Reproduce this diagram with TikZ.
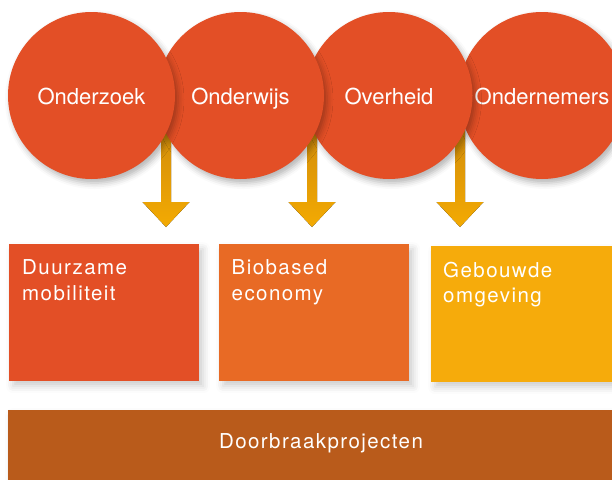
\documentclass[tikz,border=0pt]{standalone}
\usepackage{fontspec}
\setmainfont{TeX Gyre Heros}
\newfontfamily\spatie[LetterSpace=7]{TeX Gyre Heros}
\usetikzlibrary{calc,positioning,shadows.blur}
\definecolor{rood}{HTML}{E34F26}
\definecolor{oranje}{HTML}{E86A25}
\definecolor{geel}{HTML}{F6AB0B}
\definecolor{bruin}{HTML}{B95B1B}
\definecolor{pijltop}{HTML}{CF8A0C}
\definecolor{pijlbot}{HTML}{F3AA02}
\tikzset{bol/.style={circle, fill=rood, minimum size=167pt, inner sep=0pt, text=white,
    font=\fontsize{22}{24}\selectfont, text height=17pt, text depth=0pt,
    blur shadow={shadow xshift=3pt, shadow yshift=-4pt, shadow blur radius=6pt, shadow opacity=30}}}
\tikzset{vlak/.style={rectangle, anchor=north west, inner sep=0pt, minimum height=137pt,
    blur shadow={shadow xshift=4pt, shadow yshift=-5pt, shadow blur radius=7pt, shadow opacity=20}}}
\tikzset{vlaktekst/.style={anchor=north west, inner sep=0pt, align=left, text=white,
    font=\spatie\fontsize{20.5}{25.5}\selectfont}}
\tikzset{pijl/.style={top color=pijltop, bottom color=pijlbot, draw=none}}

\begin{document}
\begin{tikzpicture}[x=1pt,y=-1pt]
      \useasboundingbox (0,0) rectangle (612,479);
      % pijlen onder de bollen
      \coordinate (p1) at (166,120);
      \coordinate (p2) at (312,120);
      \coordinate (p3) at (460,120);
      \foreach \p in {p1,p2,p3}
        \fill[pijl] (\p) ++(-5,0) -- ++(0,82) -- ++(-18.5,0) -- ++(23.5,25)
              -- ++(23.5,-25) -- ++(-18.5,0) -- ++(0,-82) -- cycle;
      % bollen, de linker bovenop
      \node[bol] (c4) at (542,95.5) {Ondernemers};
      \node[bol] (c3) at (389,95.5) {Overheid};
      \node[bol] (c2) at (240.5,95.5) {Onderwijs};
      \node[bol] (c1) at (91.5,95.5) {Onderzoek};
      % thema's
      \node[vlak, fill=rood, minimum width=190pt] (b1) at (9,244) {};
      \node[vlak, fill=oranje, minimum width=190pt] (b2) at (219,244) {};
      \node[vlak, fill=geel, minimum width=200pt, minimum height=136pt] (b3) at (431,246) {};
      \node[vlaktekst] (t1) at ($(b1.north west)+(13,15.5)$) {Duurzame\\mobiliteit};
      \node[vlaktekst] (t2) at ($(b2.north west)+(12.5,15.5)$) {Biobased\\economy};
      \node[vlaktekst] (t3) at ($(b3.north west)+(12,15.5)$) {Gebouwde\\omgeving};
      % balk
      \node[vlak, fill=bruin, minimum width=630pt, minimum height=80pt] (bar) at (8,410) {};
      \node[anchor=base, text=white, font=\spatie\fontsize{20.5}{24}\selectfont] (bt) at (321,448) {Doorbraakprojecten};
    \end{tikzpicture}
\end{document}
